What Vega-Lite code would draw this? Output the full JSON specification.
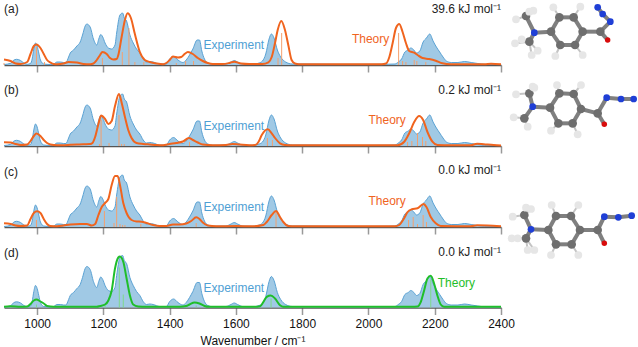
{"$schema":"https://vega.github.io/schema/vega-lite/v6.json","padding":{"left":0,"top":0,"right":0,"bottom":0},"bounds":"flush","spacing":497,"background":"white","config":{"view":{"stroke":null},"font":"Liberation Sans"},
"datasets":{
"exp":[{"wn":900,"i":0.5},{"wn":920,"i":1.7},{"wn":928,"i":4.5},{"wn":938,"i":5.7},{"wn":950,"i":4.5},{"wn":960,"i":2},{"wn":970,"i":0.7},{"wn":980,"i":1.5},{"wn":985,"i":6},{"wn":990,"i":16},{"wn":995,"i":22},{"wn":1000,"i":19},{"wn":1005,"i":12},{"wn":1010,"i":5},{"wn":1020,"i":1},{"wn":1040,"i":0.5},{"wn":1050,"i":1},{"wn":1060,"i":3},{"wn":1070,"i":3},{"wn":1080,"i":2.5},{"wn":1087,"i":2.5},{"wn":1095,"i":8},{"wn":1100,"i":12},{"wn":1110,"i":15},{"wn":1120,"i":19},{"wn":1130,"i":23},{"wn":1137,"i":30},{"wn":1145,"i":39},{"wn":1150,"i":41},{"wn":1160,"i":38},{"wn":1170,"i":26},{"wn":1180,"i":20},{"wn":1186,"i":26},{"wn":1192,"i":30.5},{"wn":1198,"i":28},{"wn":1205,"i":22},{"wn":1215,"i":17},{"wn":1225,"i":16},{"wn":1235,"i":20},{"wn":1240,"i":32},{"wn":1250,"i":50},{"wn":1258,"i":52},{"wn":1263,"i":47},{"wn":1270,"i":44},{"wn":1280,"i":30},{"wn":1290,"i":22},{"wn":1300,"i":16},{"wn":1310,"i":12},{"wn":1320,"i":6},{"wn":1330,"i":3},{"wn":1340,"i":3.5},{"wn":1350,"i":3},{"wn":1370,"i":1},{"wn":1390,"i":1},{"wn":1400,"i":6},{"wn":1412,"i":8.5},{"wn":1425,"i":5},{"wn":1440,"i":2.5},{"wn":1450,"i":5},{"wn":1460,"i":10},{"wn":1470,"i":16},{"wn":1483,"i":25},{"wn":1490,"i":25},{"wn":1497,"i":14},{"wn":1505,"i":6},{"wn":1515,"i":2},{"wn":1530,"i":0.8},{"wn":1570,"i":1},{"wn":1585,"i":3},{"wn":1595,"i":4.5},{"wn":1605,"i":3},{"wn":1620,"i":1},{"wn":1650,"i":0.7},{"wn":1670,"i":2},{"wn":1680,"i":4},{"wn":1690,"i":11},{"wn":1700,"i":26},{"wn":1707,"i":31},{"wn":1715,"i":27},{"wn":1725,"i":15},{"wn":1735,"i":8},{"wn":1750,"i":3},{"wn":1770,"i":1},{"wn":1800,"i":1},{"wn":1900,"i":0.7},{"wn":2000,"i":0.7},{"wn":2060,"i":0.8},{"wn":2080,"i":1},{"wn":2090,"i":3},{"wn":2100,"i":6},{"wn":2110,"i":13},{"wn":2120,"i":15},{"wn":2128,"i":17},{"wn":2137,"i":15},{"wn":2145,"i":12},{"wn":2155,"i":14},{"wn":2165,"i":23},{"wn":2175,"i":27},{"wn":2185,"i":31},{"wn":2195,"i":24},{"wn":2205,"i":18},{"wn":2215,"i":13},{"wn":2225,"i":8},{"wn":2235,"i":4},{"wn":2250,"i":2.5},{"wn":2270,"i":2.5},{"wn":2290,"i":3.5},{"wn":2310,"i":2.5},{"wn":2330,"i":1.5},{"wn":2350,"i":0.7},{"wn":2400,"i":0.5}],
"ta":[{"wn":900,"i":5.5},{"wn":920,"i":4},{"wn":935,"i":1.5},{"wn":950,"i":1},{"wn":970,"i":3},{"wn":980,"i":11},{"wn":990,"i":19},{"wn":998,"i":20.5},{"wn":1010,"i":17},{"wn":1020,"i":11},{"wn":1030,"i":5},{"wn":1040,"i":2.5},{"wn":1050,"i":1},{"wn":1060,"i":0.8},{"wn":1080,"i":1.5},{"wn":1095,"i":3},{"wn":1120,"i":2.5},{"wn":1140,"i":1},{"wn":1160,"i":0.8},{"wn":1170,"i":1.5},{"wn":1180,"i":5},{"wn":1190,"i":10},{"wn":1197,"i":13},{"wn":1210,"i":11},{"wn":1220,"i":7},{"wn":1230,"i":5.5},{"wn":1240,"i":6},{"wn":1245,"i":10},{"wn":1255,"i":28},{"wn":1265,"i":45},{"wn":1273,"i":51.7},{"wn":1283,"i":47},{"wn":1295,"i":31},{"wn":1310,"i":13},{"wn":1325,"i":5},{"wn":1340,"i":3},{"wn":1360,"i":1.5},{"wn":1380,"i":0.7},{"wn":1390,"i":2},{"wn":1400,"i":5},{"wn":1410,"i":8.5},{"wn":1425,"i":7.5},{"wn":1435,"i":8},{"wn":1445,"i":11},{"wn":1455,"i":13},{"wn":1470,"i":11},{"wn":1485,"i":7},{"wn":1500,"i":4},{"wn":1515,"i":2},{"wn":1530,"i":1},{"wn":1560,"i":1},{"wn":1580,"i":2},{"wn":1595,"i":3.3},{"wn":1615,"i":1.5},{"wn":1640,"i":1},{"wn":1680,"i":1},{"wn":1698,"i":2.7},{"wn":1708,"i":8},{"wn":1718,"i":22},{"wn":1726,"i":35},{"wn":1737,"i":44},{"wn":1748,"i":35},{"wn":1758,"i":20},{"wn":1768,"i":5},{"wn":1778,"i":1.5},{"wn":1790,"i":0.8},{"wn":2040,"i":0.8},{"wn":2053,"i":1.5},{"wn":2063,"i":8},{"wn":2073,"i":22},{"wn":2083,"i":37},{"wn":2093,"i":41},{"wn":2103,"i":33},{"wn":2113,"i":22},{"wn":2123,"i":14},{"wn":2138,"i":12.3},{"wn":2148,"i":10},{"wn":2163,"i":7},{"wn":2183,"i":6},{"wn":2203,"i":4.3},{"wn":2223,"i":1.7},{"wn":2248,"i":0.7},{"wn":2350,"i":0.7},{"wn":2370,"i":1.2},{"wn":2400,"i":0.7}],
"tb":[{"wn":900,"i":3.7},{"wn":920,"i":3.5},{"wn":935,"i":2},{"wn":950,"i":1},{"wn":970,"i":1.5},{"wn":980,"i":5},{"wn":990,"i":10},{"wn":998,"i":12.5},{"wn":1010,"i":10},{"wn":1020,"i":6},{"wn":1030,"i":3},{"wn":1040,"i":1.5},{"wn":1060,"i":0.8},{"wn":1100,"i":1.2},{"wn":1120,"i":1.5},{"wn":1140,"i":1.8},{"wn":1160,"i":2},{"wn":1167,"i":3},{"wn":1175,"i":9},{"wn":1185,"i":22},{"wn":1193,"i":30.5},{"wn":1205,"i":27},{"wn":1215,"i":22},{"wn":1225,"i":25},{"wn":1235,"i":40},{"wn":1247,"i":52},{"wn":1256,"i":42},{"wn":1265,"i":29},{"wn":1275,"i":16},{"wn":1285,"i":8},{"wn":1300,"i":3},{"wn":1320,"i":2},{"wn":1340,"i":1.5},{"wn":1360,"i":1},{"wn":1380,"i":0.8},{"wn":1400,"i":2},{"wn":1420,"i":3},{"wn":1440,"i":4.5},{"wn":1458,"i":8},{"wn":1470,"i":6},{"wn":1485,"i":3.5},{"wn":1500,"i":1.5},{"wn":1530,"i":0.7},{"wn":1570,"i":1},{"wn":1590,"i":2},{"wn":1610,"i":1.5},{"wn":1640,"i":0.8},{"wn":1658,"i":1},{"wn":1668,"i":4},{"wn":1678,"i":11},{"wn":1696,"i":16.7},{"wn":1708,"i":12.7},{"wn":1718,"i":8},{"wn":1733,"i":2.7},{"wn":1748,"i":1},{"wn":1770,"i":0.7},{"wn":2088,"i":0.8},{"wn":2108,"i":4.3},{"wn":2123,"i":12.7},{"wn":2138,"i":24},{"wn":2153,"i":30},{"wn":2165,"i":26},{"wn":2178,"i":14},{"wn":2193,"i":4.3},{"wn":2208,"i":1},{"wn":2250,"i":0.7},{"wn":2308,"i":0.7},{"wn":2328,"i":2.3},{"wn":2348,"i":1.8},{"wn":2378,"i":1},{"wn":2400,"i":0.6}],
"tc":[{"wn":900,"i":3.7},{"wn":920,"i":3},{"wn":935,"i":1.5},{"wn":950,"i":1},{"wn":970,"i":1.5},{"wn":980,"i":8},{"wn":990,"i":14},{"wn":1000,"i":15.7},{"wn":1010,"i":14},{"wn":1020,"i":8},{"wn":1030,"i":3},{"wn":1040,"i":1},{"wn":1060,"i":0.8},{"wn":1080,"i":1.5},{"wn":1100,"i":2.5},{"wn":1130,"i":3},{"wn":1150,"i":3},{"wn":1165,"i":1.5},{"wn":1175,"i":3},{"wn":1185,"i":12},{"wn":1195,"i":20},{"wn":1205,"i":24},{"wn":1215,"i":28},{"wn":1225,"i":42},{"wn":1235,"i":51},{"wn":1243,"i":51},{"wn":1250,"i":42},{"wn":1260,"i":24},{"wn":1270,"i":14},{"wn":1285,"i":7},{"wn":1300,"i":5.5},{"wn":1315,"i":5.3},{"wn":1330,"i":4},{"wn":1350,"i":2},{"wn":1370,"i":1},{"wn":1390,"i":1},{"wn":1410,"i":2.5},{"wn":1430,"i":2.5},{"wn":1450,"i":3.5},{"wn":1465,"i":6},{"wn":1480,"i":9.7},{"wn":1490,"i":8},{"wn":1500,"i":4.5},{"wn":1515,"i":1.5},{"wn":1540,"i":0.7},{"wn":1600,"i":1},{"wn":1650,"i":0.7},{"wn":1683,"i":2},{"wn":1693,"i":5},{"wn":1708,"i":12},{"wn":1721,"i":16},{"wn":1733,"i":10},{"wn":1743,"i":5},{"wn":1758,"i":1},{"wn":1778,"i":0.7},{"wn":2080,"i":0.7},{"wn":2093,"i":2},{"wn":2108,"i":9},{"wn":2118,"i":15},{"wn":2131,"i":17.7},{"wn":2148,"i":18.7},{"wn":2166,"i":23},{"wn":2175,"i":20},{"wn":2188,"i":10},{"wn":2203,"i":3.7},{"wn":2218,"i":1},{"wn":2308,"i":0.7},{"wn":2328,"i":1.7},{"wn":2358,"i":1.5},{"wn":2400,"i":0.7}],
"td":[{"wn":900,"i":0.8},{"wn":920,"i":1.2},{"wn":950,"i":0.8},{"wn":970,"i":1},{"wn":980,"i":3.5},{"wn":990,"i":7},{"wn":998,"i":8},{"wn":1010,"i":6},{"wn":1020,"i":4},{"wn":1030,"i":1.5},{"wn":1050,"i":0.7},{"wn":1180,"i":0.7},{"wn":1190,"i":1.5},{"wn":1205,"i":3},{"wn":1215,"i":7},{"wn":1225,"i":17},{"wn":1235,"i":39},{"wn":1245,"i":50},{"wn":1250,"i":51},{"wn":1260,"i":45.7},{"wn":1270,"i":29},{"wn":1280,"i":12},{"wn":1290,"i":3},{"wn":1305,"i":1},{"wn":1330,"i":0.7},{"wn":1430,"i":0.7},{"wn":1450,"i":1.5},{"wn":1460,"i":3},{"wn":1475,"i":5},{"wn":1490,"i":4},{"wn":1505,"i":1.5},{"wn":1520,"i":0.7},{"wn":1590,"i":0.8},{"wn":1650,"i":0.7},{"wn":1673,"i":1.3},{"wn":1683,"i":5.7},{"wn":1693,"i":10.7},{"wn":1705,"i":12},{"wn":1718,"i":9},{"wn":1733,"i":2.3},{"wn":1743,"i":0.7},{"wn":2130,"i":0.7},{"wn":2148,"i":1},{"wn":2158,"i":5.7},{"wn":2168,"i":17},{"wn":2178,"i":29},{"wn":2188,"i":31.7},{"wn":2198,"i":24},{"wn":2208,"i":12},{"wn":2218,"i":3},{"wn":2228,"i":0.8},{"wn":2400,"i":0.7}],
"sa":[{"wn":900,"i":2},{"wn":998,"i":18},{"wn":1022,"i":3},{"wn":1197,"i":7},{"wn":1257,"i":13},{"wn":1277,"i":37},{"wn":1295,"i":3},{"wn":1322,"i":3},{"wn":1420,"i":2},{"wn":1448,"i":4},{"wn":1472,"i":4},{"wn":1727,"i":7},{"wn":1738,"i":32},{"wn":2091,"i":32},{"wn":2103,"i":4},{"wn":2113,"i":3},{"wn":2138,"i":5},{"wn":2146,"i":4},{"wn":2173,"i":3}],
"sb":[{"wn":1188,"i":2},{"wn":1193,"i":26},{"wn":1217,"i":3},{"wn":1247,"i":31},{"wn":1255,"i":2},{"wn":1263,"i":2},{"wn":1460,"i":4},{"wn":1695,"i":8},{"wn":1710,"i":6},{"wn":2118,"i":4},{"wn":2131,"i":5},{"wn":2148,"i":13},{"wn":2163,"i":9},{"wn":2173,"i":5}],
"sc":[{"wn":998,"i":7},{"wn":1203,"i":16},{"wn":1232,"i":4},{"wn":1240,"i":30},{"wn":1250,"i":3},{"wn":1258,"i":2},{"wn":1265,"i":2},{"wn":1313,"i":3},{"wn":1480,"i":4},{"wn":1721,"i":16},{"wn":2121,"i":7},{"wn":2135,"i":10},{"wn":2148,"i":3},{"wn":2165,"i":12},{"wn":2175,"i":5}],
"sd":[{"wn":998,"i":3},{"wn":1205,"i":2},{"wn":1248,"i":40},{"wn":1260,"i":13},{"wn":1480,"i":2},{"wn":1706,"i":9},{"wn":2188,"i":28}],
"atoms":[{"x":175,"y":52,"el":"C"},{"x":218,"y":52,"el":"C"},{"x":245,"y":95,"el":"C"},{"x":222,"y":135,"el":"C"},{"x":178,"y":135,"el":"C"},{"x":150,"y":95,"el":"C"},{"x":298,"y":95,"el":"C"},{"x":320,"y":120,"el":"O"},{"x":328,"y":65,"el":"N"},{"x":305,"y":42,"el":"N"},{"x":290,"y":22,"el":"N"},{"x":100,"y":98,"el":"N"},{"x":75,"y":48,"el":"C"},{"x":85,"y":125,"el":"C"},{"x":157,"y":22,"el":"H"},{"x":238,"y":20,"el":"H"},{"x":163,"y":168,"el":"H"},{"x":245,"y":165,"el":"H"},{"x":45,"y":58,"el":"H"},{"x":85,"y":35,"el":"H"},{"x":97,"y":32,"el":"H"},{"x":42,"y":130,"el":"H"},{"x":62,"y":118,"el":"H"},{"x":92,"y":165,"el":"H"},{"x":110,"y":152,"el":"H"},
{"x":175,"y":280,"el":"C"},{"x":218,"y":282,"el":"C"},{"x":240,"y":327,"el":"C"},{"x":215,"y":370,"el":"C"},{"x":172,"y":370,"el":"C"},{"x":147,"y":323,"el":"C"},{"x":290,"y":340,"el":"C"},{"x":310,"y":373,"el":"O"},{"x":317,"y":293,"el":"N"},{"x":360,"y":297,"el":"N"},{"x":398,"y":297,"el":"N"},{"x":95,"y":320,"el":"N"},{"x":85,"y":280,"el":"C"},{"x":70,"y":355,"el":"C"},{"x":168,"y":255,"el":"H"},{"x":240,"y":255,"el":"H"},{"x":150,"y":392,"el":"H"},{"x":230,"y":403,"el":"H"},{"x":45,"y":283,"el":"H"},{"x":95,"y":260,"el":"H"},{"x":100,"y":263,"el":"H"},{"x":38,"y":352,"el":"H"},{"x":80,"y":380,"el":"H"},
{"x":165,"y":648,"el":"C"},{"x":210,"y":648,"el":"C"},{"x":237,"y":690,"el":"C"},{"x":212,"y":733,"el":"C"},{"x":165,"y":733,"el":"C"},{"x":142,"y":690,"el":"C"},{"x":290,"y":690,"el":"C"},{"x":310,"y":730,"el":"O"},{"x":310,"y":650,"el":"N"},{"x":352,"y":652,"el":"N"},{"x":392,"y":647,"el":"N"},{"x":90,"y":688,"el":"N"},{"x":70,"y":645,"el":"C"},{"x":75,"y":715,"el":"C"},{"x":35,"y":650,"el":"H"},{"x":75,"y":623,"el":"H"},{"x":90,"y":627,"el":"H"},{"x":32,"y":715,"el":"H"},{"x":50,"y":715,"el":"H"},{"x":80,"y":750,"el":"H"},{"x":100,"y":750,"el":"H"},{"x":152,"y":615,"el":"H"},{"x":232,"y":615,"el":"H"},{"x":150,"y":765,"el":"H"},{"x":232,"y":765,"el":"H"}],
"bonds":[{"x":175,"y":52,"x2":218,"y2":52},{"x":218,"y":52,"x2":245,"y2":95},{"x":245,"y":95,"x2":222,"y2":135},{"x":222,"y":135,"x2":178,"y2":135},{"x":178,"y":135,"x2":150,"y2":95},{"x":150,"y":95,"x2":175,"y2":52},{"x":150,"y":95,"x2":100,"y2":98},{"x":100,"y":98,"x2":75,"y2":48},{"x":100,"y":98,"x2":85,"y2":125},{"x":245,"y":95,"x2":298,"y2":95},{"x":298,"y":95,"x2":320,"y2":120},{"x":298,"y":95,"x2":328,"y2":65},{"x":328,"y":65,"x2":305,"y2":42},{"x":305,"y":42,"x2":290,"y2":22},
{"x":175,"y":280,"x2":218,"y2":282},{"x":218,"y":282,"x2":240,"y2":327},{"x":240,"y":327,"x2":215,"y2":370},{"x":215,"y":370,"x2":172,"y2":370},{"x":172,"y":370,"x2":147,"y2":323},{"x":147,"y":323,"x2":175,"y2":280},{"x":147,"y":323,"x2":95,"y2":320},{"x":95,"y":320,"x2":85,"y2":280},{"x":95,"y":320,"x2":70,"y2":355},{"x":240,"y":327,"x2":290,"y2":340},{"x":290,"y":340,"x2":310,"y2":373},{"x":290,"y":340,"x2":317,"y2":293},{"x":317,"y":293,"x2":360,"y2":297},{"x":360,"y":297,"x2":398,"y2":297},
{"x":165,"y":648,"x2":210,"y2":648},{"x":210,"y":648,"x2":237,"y2":690},{"x":237,"y":690,"x2":212,"y2":733},{"x":212,"y":733,"x2":165,"y2":733},{"x":165,"y":733,"x2":142,"y2":690},{"x":142,"y":690,"x2":165,"y2":648},{"x":142,"y":690,"x2":90,"y2":688},{"x":90,"y":688,"x2":70,"y2":645},{"x":90,"y":688,"x2":75,"y2":715},{"x":237,"y":690,"x2":290,"y2":690},{"x":290,"y":690,"x2":310,"y2":730},{"x":290,"y":690,"x2":310,"y2":650},{"x":310,"y":650,"x2":352,"y2":652},{"x":352,"y":652,"x2":392,"y2":647}],
"hbonds":[{"x":175,"y":52,"x2":157,"y2":22},{"x":218,"y":52,"x2":238,"y2":20},{"x":178,"y":135,"x2":163,"y2":168},{"x":222,"y":135,"x2":245,"y2":165},{"x":75,"y":48,"x2":45,"y2":58},{"x":75,"y":48,"x2":85,"y2":35},{"x":75,"y":48,"x2":97,"y2":32},{"x":85,"y":125,"x2":42,"y2":130},{"x":85,"y":125,"x2":62,"y2":118},{"x":85,"y":125,"x2":92,"y2":165},{"x":85,"y":125,"x2":110,"y2":152},
{"x":175,"y":280,"x2":168,"y2":255},{"x":218,"y":282,"x2":240,"y2":255},{"x":172,"y":370,"x2":150,"y2":392},{"x":215,"y":370,"x2":230,"y2":403},{"x":85,"y":280,"x2":45,"y2":283},{"x":85,"y":280,"x2":95,"y2":260},{"x":85,"y":280,"x2":100,"y2":263},{"x":70,"y":355,"x2":38,"y2":352},{"x":70,"y":355,"x2":80,"y2":380},
{"x":165,"y":648,"x2":152,"y2":615},{"x":210,"y":648,"x2":232,"y2":615},{"x":165,"y":733,"x2":150,"y2":765},{"x":212,"y":733,"x2":232,"y2":765},{"x":70,"y":645,"x2":35,"y2":650},{"x":70,"y":645,"x2":75,"y2":623},{"x":70,"y":645,"x2":90,"y2":627},{"x":75,"y":715,"x2":32,"y2":715},{"x":75,"y":715,"x2":50,"y2":715},{"x":75,"y":715,"x2":80,"y2":750},{"x":75,"y":715,"x2":100,"y2":750}]
},
"hconcat":[
{"vconcat":[
{"width":497,"height":65,"encoding":{"x":{"field":"wn","type":"quantitative","scale":{"domain":[900,2400],"nice":false},"axis":{"values":[1000,1200,1400,1600,1800,2000,2200,2400],"labels":false,"title":null,"grid":false,"tickSize":7,"tickColor":"#999999","tickWidth":1.5,"domainColor":"#555555","domainWidth":1.5}},"y":{"field":"i","type":"quantitative","scale":{"domain":[0,65],"nice":false},"axis":null}},"layer":[
{"data":{"name":"exp"},"mark":{"type":"area","color":"#a0c9e5","interpolate":"monotone"}},
{"data":{"name":"exp"},"mark":{"type":"line","color":"#5aa2d4","strokeWidth":1,"interpolate":"monotone"}},
{"data":{"name":"sa"},"mark":{"type":"rule","color":"#f4a06e","strokeWidth":1},"encoding":{"y2":{"datum":0}}},
{"data":{"name":"ta"},"mark":{"type":"line","color":"#f0641e","strokeWidth":2,"interpolate":"monotone"}},
{"data":{"values":[{"wn":1502,"i":20,"t":"Experiment"}]},"mark":{"type":"text","align":"left","baseline":"middle","fontSize":12,"color":"#4f9fd4"},"encoding":{"text":{"field":"t"}}},
{"data":{"values":[{"wn":1950,"i":26,"t":"Theory"}]},"mark":{"type":"text","align":"left","baseline":"middle","fontSize":12,"color":"#f0641e"},"encoding":{"text":{"field":"t"}}},
{"data":{"values":[{"wn":2400,"i":56,"t":"39.6 kJ mol⁻¹"}]},"mark":{"type":"text","align":"right","baseline":"middle","fontSize":12,"color":"#222222"},"encoding":{"text":{"field":"t"}}},
{"data":{"values":[{"wn":900,"i":56,"t":"(a)"}]},"mark":{"type":"text","align":"left","baseline":"middle","fontSize":12,"color":"#222222"},"encoding":{"text":{"field":"t"}}}
]},
{"width":497,"height":81,"encoding":{"x":{"field":"wn","type":"quantitative","scale":{"domain":[900,2400],"nice":false},"axis":{"values":[1000,1200,1400,1600,1800,2000,2200,2400],"labels":false,"title":null,"grid":false,"tickSize":7,"tickColor":"#999999","tickWidth":1.5,"domainColor":"#555555","domainWidth":1.5}},"y":{"field":"i","type":"quantitative","scale":{"domain":[0,81],"nice":false},"axis":null}},"layer":[
{"data":{"name":"exp"},"mark":{"type":"area","color":"#a0c9e5","interpolate":"monotone"}},
{"data":{"name":"exp"},"mark":{"type":"line","color":"#5aa2d4","strokeWidth":1,"interpolate":"monotone"}},
{"data":{"name":"sb"},"mark":{"type":"rule","color":"#f4a06e","strokeWidth":1},"encoding":{"y2":{"datum":0}}},
{"data":{"name":"tb"},"mark":{"type":"line","color":"#f0641e","strokeWidth":2,"interpolate":"monotone"}},
{"data":{"values":[{"wn":1502,"i":20,"t":"Experiment"}]},"mark":{"type":"text","align":"left","baseline":"middle","fontSize":12,"color":"#4f9fd4"},"encoding":{"text":{"field":"t"}}},
{"data":{"values":[{"wn":2000,"i":26,"t":"Theory"}]},"mark":{"type":"text","align":"left","baseline":"middle","fontSize":12,"color":"#f0641e"},"encoding":{"text":{"field":"t"}}},
{"data":{"values":[{"wn":2400,"i":56,"t":"0.2 kJ mol⁻¹"}]},"mark":{"type":"text","align":"right","baseline":"middle","fontSize":12,"color":"#222222"},"encoding":{"text":{"field":"t"}}},
{"data":{"values":[{"wn":900,"i":56,"t":"(b)"}]},"mark":{"type":"text","align":"left","baseline":"middle","fontSize":12,"color":"#222222"},"encoding":{"text":{"field":"t"}}}
]},
{"width":497,"height":81,"encoding":{"x":{"field":"wn","type":"quantitative","scale":{"domain":[900,2400],"nice":false},"axis":{"values":[1000,1200,1400,1600,1800,2000,2200,2400],"labels":false,"title":null,"grid":false,"tickSize":7,"tickColor":"#999999","tickWidth":1.5,"domainColor":"#555555","domainWidth":1.5}},"y":{"field":"i","type":"quantitative","scale":{"domain":[0,81],"nice":false},"axis":null}},"layer":[
{"data":{"name":"exp"},"mark":{"type":"area","color":"#a0c9e5","interpolate":"monotone"}},
{"data":{"name":"exp"},"mark":{"type":"line","color":"#5aa2d4","strokeWidth":1,"interpolate":"monotone"}},
{"data":{"name":"sc"},"mark":{"type":"rule","color":"#f4a06e","strokeWidth":1},"encoding":{"y2":{"datum":0}}},
{"data":{"name":"tc"},"mark":{"type":"line","color":"#f0641e","strokeWidth":2,"interpolate":"monotone"}},
{"data":{"values":[{"wn":1502,"i":20,"t":"Experiment"}]},"mark":{"type":"text","align":"left","baseline":"middle","fontSize":12,"color":"#4f9fd4"},"encoding":{"text":{"field":"t"}}},
{"data":{"values":[{"wn":2000,"i":26,"t":"Theory"}]},"mark":{"type":"text","align":"left","baseline":"middle","fontSize":12,"color":"#f0641e"},"encoding":{"text":{"field":"t"}}},
{"data":{"values":[{"wn":2400,"i":57,"t":"0.0 kJ mol⁻¹"}]},"mark":{"type":"text","align":"right","baseline":"middle","fontSize":12,"color":"#222222"},"encoding":{"text":{"field":"t"}}},
{"data":{"values":[{"wn":900,"i":55,"t":"(c)"}]},"mark":{"type":"text","align":"left","baseline":"middle","fontSize":12,"color":"#222222"},"encoding":{"text":{"field":"t"}}}
]},
{"width":497,"height":80.5,"encoding":{"x":{"field":"wn","type":"quantitative","scale":{"domain":[900,2400],"nice":false},"axis":{"values":[1000,1200,1400,1600,1800,2000,2200,2400],"format":"d","labelFontSize":12,"labelColor":"#111111","labelPadding":4,"labelFlush":false,"title":"Wavenumber / cm⁻¹","titleFontSize":12,"titleFontWeight":"normal","titleColor":"#111111","titlePadding":6,"grid":false,"tickSize":7,"tickColor":"#999999","tickWidth":1.5,"domainColor":"#555555","domainWidth":1.5}},"y":{"field":"i","type":"quantitative","scale":{"domain":[0,80.5],"nice":false},"axis":null}},"layer":[
{"data":{"name":"exp"},"mark":{"type":"area","color":"#a0c9e5","interpolate":"monotone"}},
{"data":{"name":"exp"},"mark":{"type":"line","color":"#5aa2d4","strokeWidth":1,"interpolate":"monotone"}},
{"data":{"name":"sd"},"mark":{"type":"rule","color":"#7fd98a","strokeWidth":1},"encoding":{"y2":{"datum":0}}},
{"data":{"name":"td"},"mark":{"type":"line","color":"#1fbe2a","strokeWidth":2,"interpolate":"monotone"}},
{"data":{"values":[{"wn":1502,"i":20,"t":"Experiment"}]},"mark":{"type":"text","align":"left","baseline":"middle","fontSize":12,"color":"#4f9fd4"},"encoding":{"text":{"field":"t"}}},
{"data":{"values":[{"wn":2209,"i":25,"t":"Theory"}]},"mark":{"type":"text","align":"left","baseline":"middle","fontSize":12,"color":"#1fbe2a"},"encoding":{"text":{"field":"t"}}},
{"data":{"values":[{"wn":2400,"i":56,"t":"0.0 kJ mol⁻¹"}]},"mark":{"type":"text","align":"right","baseline":"middle","fontSize":12,"color":"#222222"},"encoding":{"text":{"field":"t"}}},
{"data":{"values":[{"wn":900,"i":55,"t":"(d)"}]},"mark":{"type":"text","align":"left","baseline":"middle","fontSize":12,"color":"#222222"},"encoding":{"text":{"field":"t"}}}
]}
],"spacing":0,"bounds":"flush"},
{"width":138,"height":307.5,"encoding":{"x":{"field":"x","type":"quantitative","scale":{"domain":[0,414],"nice":false},"axis":null},"y":{"field":"y","type":"quantitative","scale":{"domain":[0,922.5],"reverse":true,"nice":false},"axis":null}},"layer":[
{"data":{"name":"hbonds"},"mark":{"type":"rule","color":"#c4c4c4","strokeWidth":2},"encoding":{"x2":{"field":"x2"},"y2":{"field":"y2"}}},
{"data":{"name":"bonds"},"mark":{"type":"rule","color":"#7f7f7f","strokeWidth":4},"encoding":{"x2":{"field":"x2"},"y2":{"field":"y2"}}},
{"data":{"name":"atoms"},"mark":{"type":"point","filled":true,"opacity":1},"encoding":{"color":{"field":"el","type":"nominal","scale":{"domain":["C","H","N","O"],"range":["#6e6e6e","#e6e6e6","#1f3fd6","#d80c0c"]},"legend":null},"size":{"field":"el","type":"nominal","scale":{"domain":["C","H","N","O"],"range":[75,30,80,80]},"legend":null}}}
]}
]}
